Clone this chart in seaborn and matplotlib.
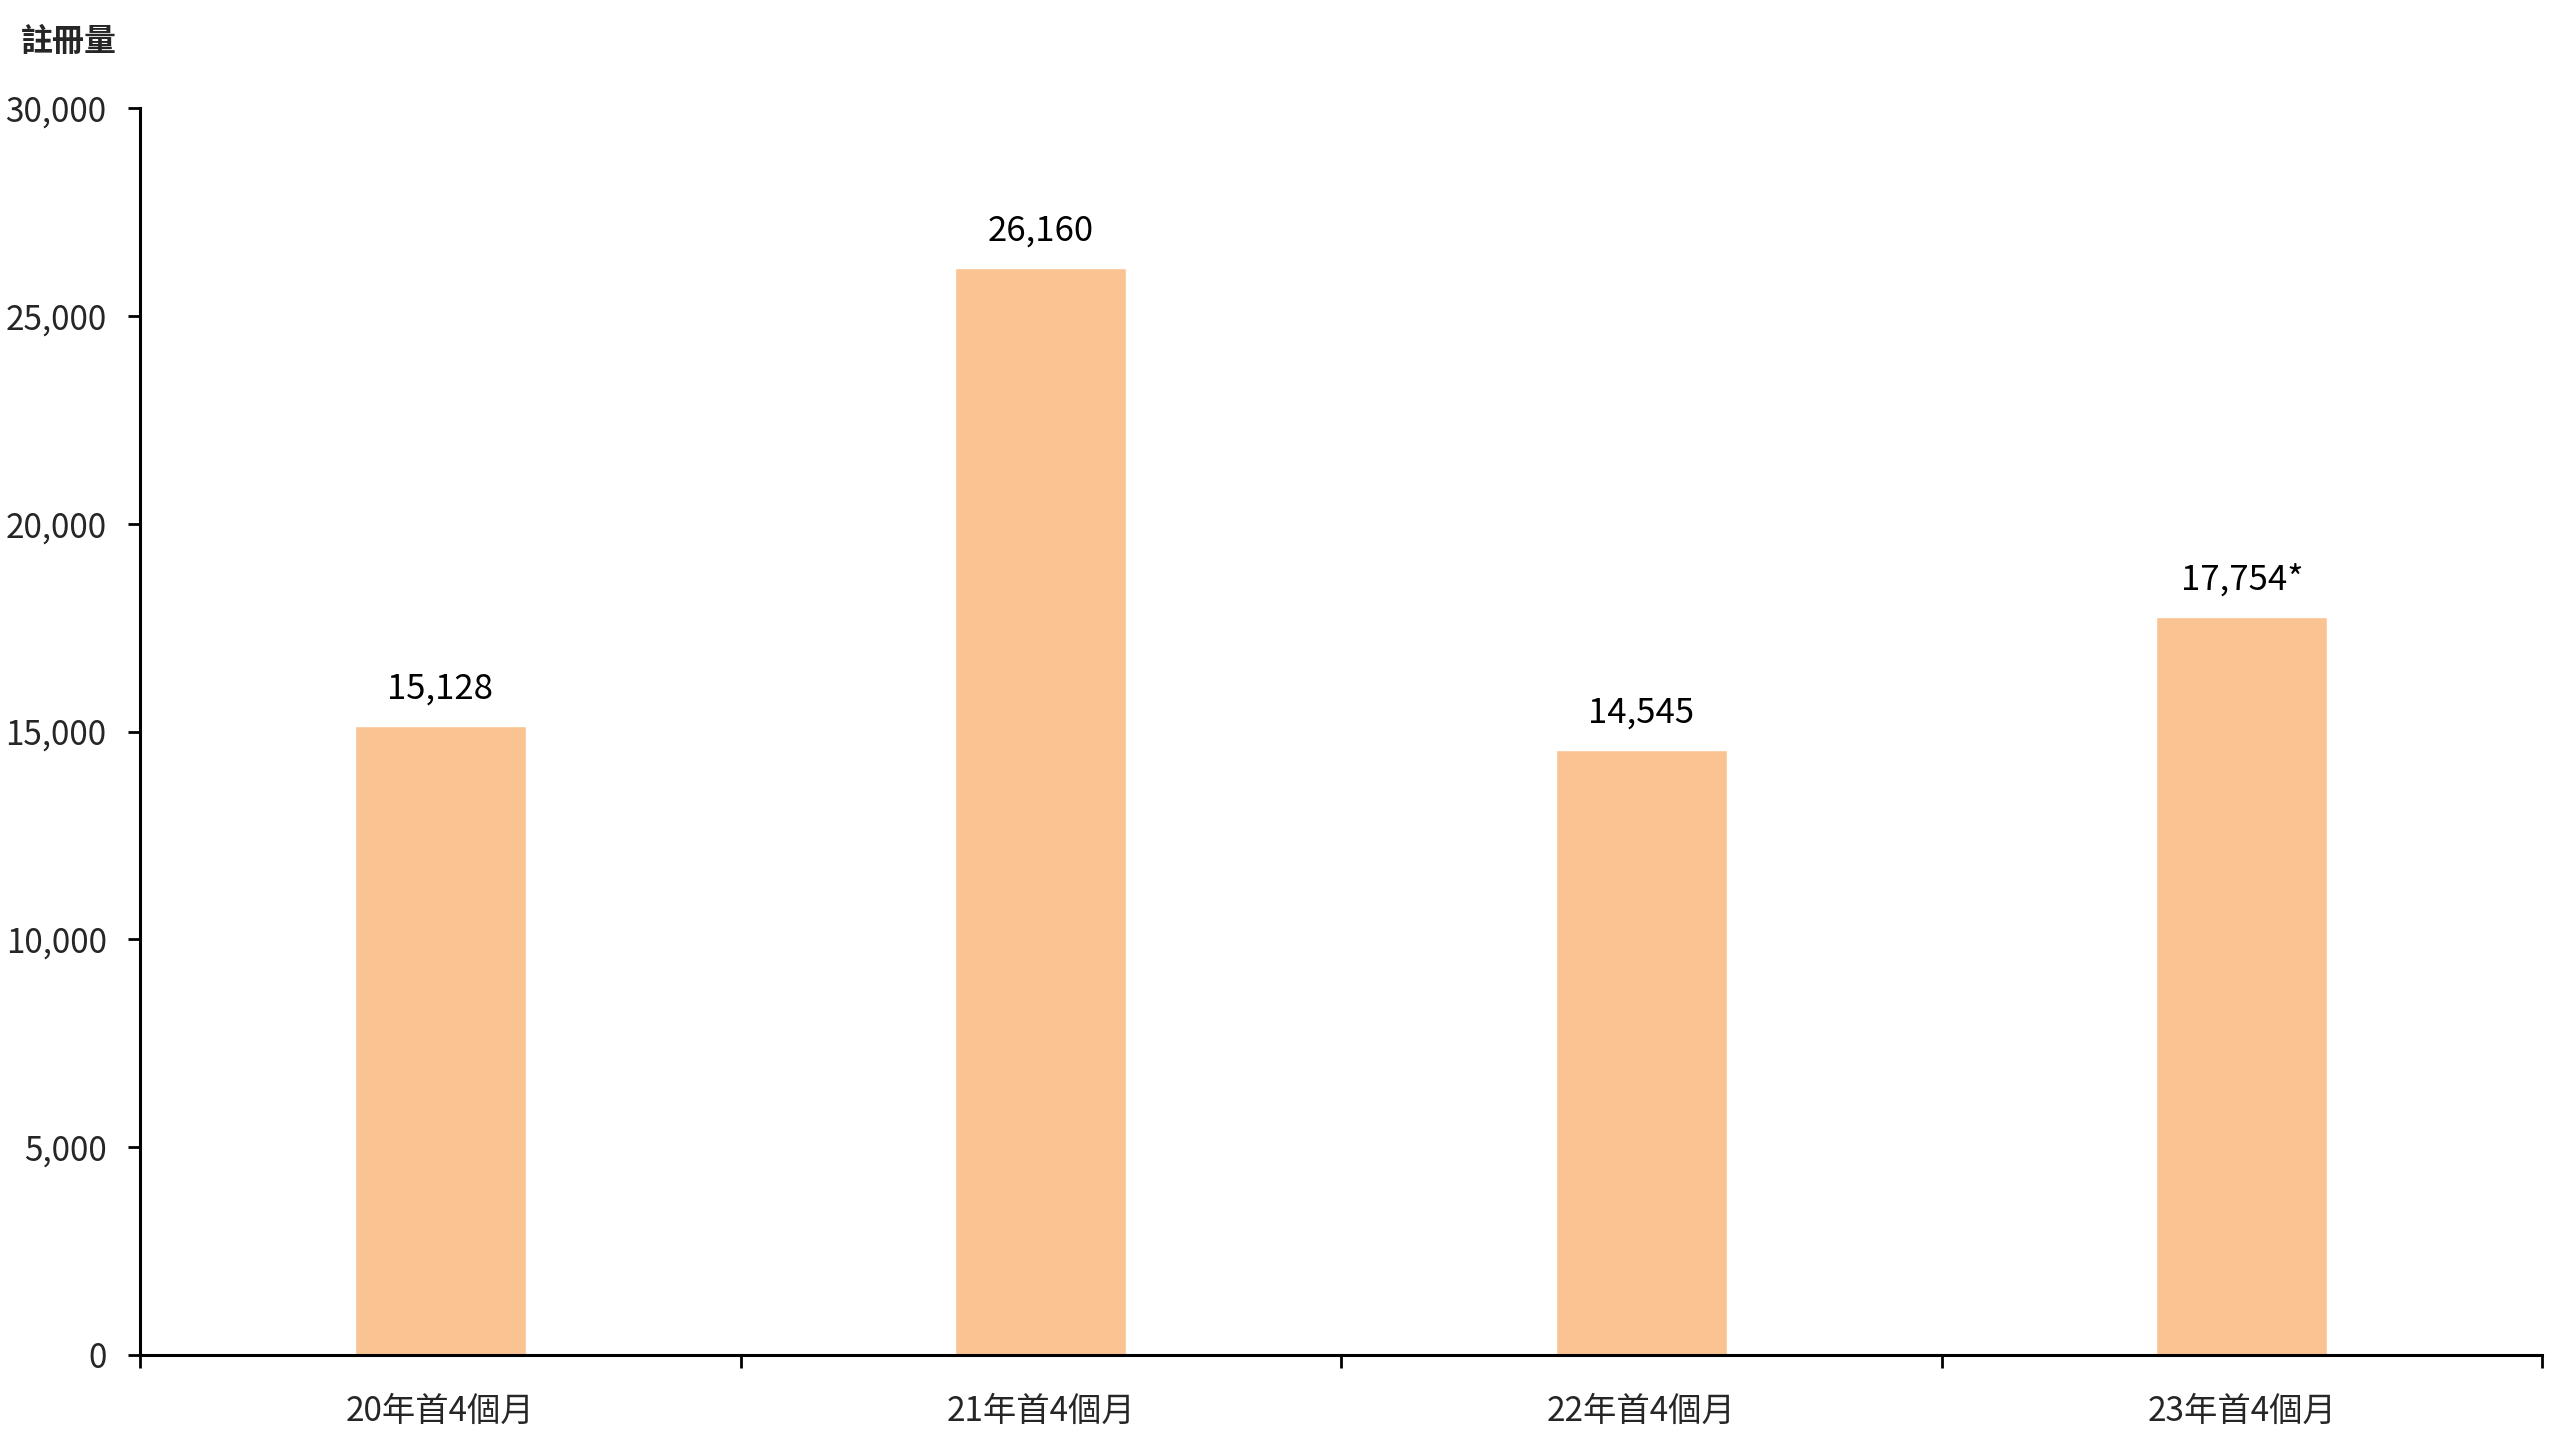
import matplotlib
matplotlib.use("Agg")
import matplotlib.pyplot as plt
import seaborn as sns
from matplotlib.ticker import FuncFormatter, FixedLocator

# data
periods = ["20年首4個月", "21年首4個月", "22年首4個月", "23年首4個月"]
registrations = [15128, 26160, 14545, 17754]
value_labels = ["15,128", "26,160", "14,545", "17,754*"]
y_ticks = [0, 5000, 10000, 15000, 20000, 25000, 30000]

sns.set_theme(style="white")
plt.rcParams["font.family"] = ["Noto Sans CJK TC", "DejaVu Sans"]

fig = plt.figure(figsize=(25.6, 14.4), dpi=100)
ax = fig.add_axes([140 / 2560, 85 / 1440, 2402 / 2560, 1247 / 1440])

sns.barplot(x=periods, y=registrations, color="#F9C491", width=0.285,
            saturation=1, ax=ax)

ax.set_xlim(-0.5, len(periods) - 0.5)
ax.set_ylim(0, 30000)
ax.set_yticks(y_ticks)
ax.yaxis.set_major_formatter(FuncFormatter(lambda v, p: f"{int(v):,}"))

# category boundary ticks on the x axis
ax.xaxis.set_minor_locator(FixedLocator([i - 0.5 for i in range(len(periods) + 1)]))
ax.tick_params(axis="x", which="major", length=0, pad=28, labelsize=24)
ax.tick_params(axis="x", which="minor", bottom=True, length=9, width=2, color="black")
ax.tick_params(axis="y", left=True, length=9, width=2, color="black", pad=15, labelsize=24)

for s in ["top", "right"]:
    ax.spines[s].set_visible(False)
for s in ["left", "bottom"]:
    ax.spines[s].set_color("black")
    ax.spines[s].set_linewidth(2.2)

ax.bar_label(ax.containers[0], labels=value_labels, padding=14, fontsize=25, color="black")
ax.set_xlabel("")
ax.set_ylabel("")

fig.text(21 / 2560, 1 - 42 / 1440, "註冊量", fontsize=23, fontweight="bold", va="center", ha="left")

fig.savefig("out.png", dpi=100, facecolor="white")
